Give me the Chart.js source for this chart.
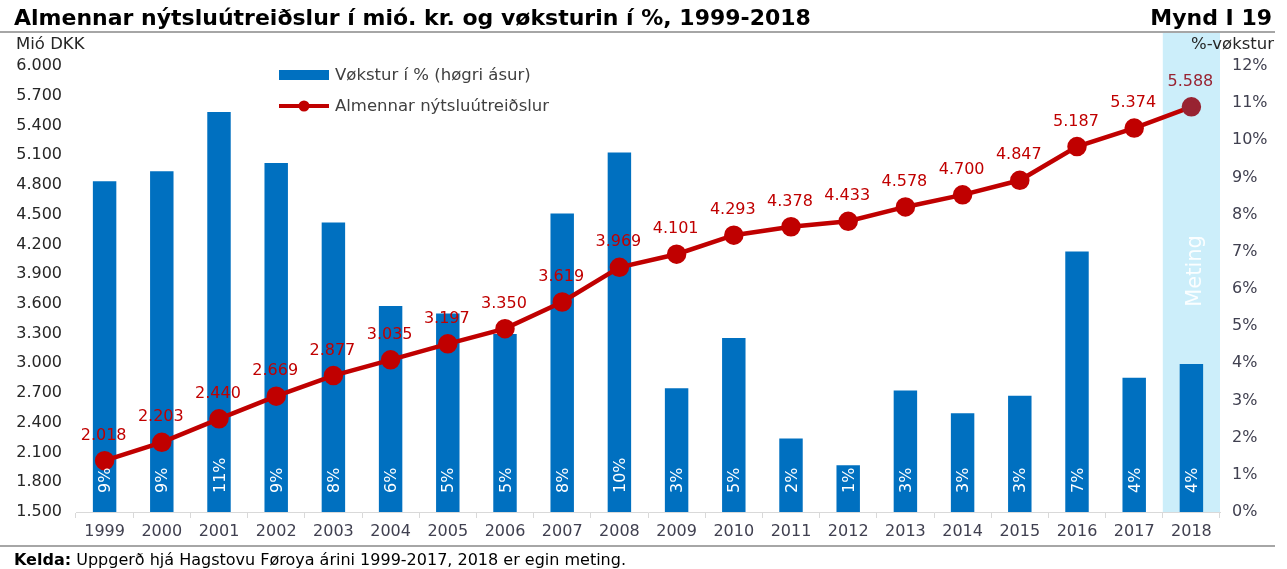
<!DOCTYPE html>
<html>
<head>
<meta charset="utf-8">
<script src="https://cdn.jsdelivr.net/npm/chart.js@4"></script>
<style>
  html,body{margin:0;padding:0;background:#fff;}
  #wrap{position:relative;width:1287px;height:569px;font-family:"DejaVu Sans",Verdana,sans-serif;overflow:hidden;}
  #wrap canvas{position:absolute;left:0;top:0;}
  .title{position:absolute;left:14px;top:5px;font-weight:bold;font-size:22px;color:#000;white-space:nowrap;}
  .fig{position:absolute;right:15px;top:5px;font-weight:bold;font-size:22px;color:#000;}
  .rule{position:absolute;left:0;width:1275px;height:2px;background:#a6a6a6;}
  .unit{position:absolute;top:34px;font-size:16.5px;color:#262626;}
  .src{position:absolute;left:14px;top:550px;font-size:16px;color:#000;white-space:nowrap;}
</style>
</head>
<body>
<div id="wrap">
  <canvas id="c" width="1287" height="569"></canvas>
  <div class="title">Almennar nýtsluútreiðslur í mió. kr. og vøksturin í %, 1999-2018</div>
  <div class="fig">Mynd I 19</div>
  <div class="rule" style="top:31px"></div>
  <div class="unit" style="left:16px">Mió DKK</div>
  <div class="unit" style="right:13px">%-vøkstur</div>
  <div class="rule" style="top:545px"></div>
  <div class="src"><b>Kelda:</b> Uppgerð hjá Hagstovu Føroya árini 1999-2017, 2018 er egin meting.</div>
</div>
<script>
// data
const years = ['1999','2000','2001','2002','2003','2004','2005','2006','2007','2008',
               '2009','2010','2011','2012','2013','2014','2015','2016','2017','2018'];
const spending = [2018,2203,2440,2669,2877,3035,3197,3350,3619,3969,
                  4101,4293,4378,4433,4578,4700,4847,5187,5374,5588];
const growth = [8.9,9.17,10.76,9.39,7.79,5.54,5.34,4.79,8.03,9.67,
                3.33,4.68,1.98,1.26,3.27,2.66,3.13,7.01,3.61,3.98];
const leftTicks = [1500,1800,2100,2400,2700,3000,3300,3600,3900,4200,4500,4800,5100,5400,5700,6000];
const estimateYear = '2018';

const FONT = '"DejaVu Sans", Verdana, sans-serif';
const RED = '#C00000';
const RED_EST = '#982332';
const BLUE = '#0070C0';

function fmt(n){ return String(n).replace(/\B(?=(\d{3})+(?!\d))/g, '.'); }

// light blue band behind the estimate year + "Meting"
const bandPlugin = {
  id:'band',
  beforeDatasetsDraw(chart){
    const {ctx, scales:{x}, chartArea} = chart;
    const i = years.indexOf(estimateYear);
    const w = x.getPixelForValue(1) - x.getPixelForValue(0);
    const cx = x.getPixelForValue(i);
    ctx.save();
    ctx.fillStyle = '#CCEEFA';
    ctx.fillRect(cx - w/2, 33, w, chartArea.bottom - 33);
    ctx.translate(cx + 4, 271);
    ctx.rotate(-Math.PI/2);
    ctx.fillStyle = 'rgba(255,255,255,0.92)';
    ctx.font = '21px ' + FONT;
    ctx.textAlign = 'center';
    ctx.textBaseline = 'middle';
    ctx.fillText('Meting', 0, 0);
    ctx.restore();
  }
};

// value labels: rotated % inside bars, spending above points
const labelPlugin = {
  id:'labels',
  afterDatasetsDraw(chart){
    const {ctx, chartArea} = chart;
    const barMeta = chart.getDatasetMeta(0);
    const lineMeta = chart.getDatasetMeta(1);
    ctx.save();
    ctx.font = '16px ' + FONT;
    ctx.fillStyle = '#ffffff';
    barMeta.data.forEach((bar, i) => {
      ctx.save();
      ctx.translate(bar.x + 1.5, chartArea.bottom - 19);
      ctx.rotate(-Math.PI/2);
      ctx.textAlign = 'left';
      ctx.textBaseline = 'middle';
      ctx.fillText(Math.round(growth[i]) + '%', 0, 0);
      ctx.restore();
    });
    ctx.font = '16px ' + FONT;
    ctx.textAlign = 'center';
    ctx.textBaseline = 'middle';
    lineMeta.data.forEach((pt, i) => {
      ctx.fillStyle = years[i] === estimateYear ? RED_EST : RED;
      ctx.fillText(fmt(spending[i]), pt.x - 1, pt.y - 25);
    });
    ctx.restore();
  }
};

// legend drawn by hand to match the reference placement
const legendPlugin = {
  id:'legendBox',
  afterDraw(chart){
    const {ctx} = chart;
    const ds = chart.data.datasets;
    ctx.save();
    ctx.font = '16.5px ' + FONT;
    ctx.textBaseline = 'middle';
    ctx.fillStyle = BLUE;
    ctx.fillRect(279, 70, 50, 10);
    ctx.fillStyle = '#404040';
    ctx.fillText(ds[0].label, 335, 76);
    ctx.strokeStyle = RED;
    ctx.lineWidth = 4;
    ctx.beginPath(); ctx.moveTo(279, 106); ctx.lineTo(329, 106); ctx.stroke();
    ctx.fillStyle = RED;
    ctx.beginPath(); ctx.arc(304, 106, 5.5, 0, Math.PI*2); ctx.fill();
    ctx.fillStyle = '#404040';
    ctx.fillText(ds[1].label, 335, 107);
    ctx.restore();
  }
};

new Chart(document.getElementById('c'), {
  data:{
    labels: years,
    datasets:[
      {
        type:'bar', label:'Vøkstur í % (høgri ásur)', data: growth, yAxisID:'y1',
        backgroundColor: BLUE, borderWidth:0,
        categoryPercentage:1, barPercentage:0.41, order:2
      },
      {
        type:'line', label:'Almennar nýtsluútreiðslur', data: spending, yAxisID:'y',
        borderColor: RED, borderWidth:4.5,
        pointRadius:7.5, pointHoverRadius:7.5,
        pointBackgroundColor: years.map(y => y === estimateYear ? RED_EST : RED),
        pointBorderColor: years.map(y => y === estimateYear ? RED_EST : RED),
        tension:0, order:1
      }
    ]
  },
  options:{
    responsive:false,
    animation:false,
    devicePixelRatio:1,
    layout:{padding:{top:66, left:0, right:0, bottom:0}},
    plugins:{legend:{display:false}, tooltip:{enabled:false}, title:{display:false}},
    scales:{
      x:{
        offset:true,
        grid:{display:true, drawOnChartArea:false, offset:true, tickLength:6, color:'#d9d9d9'},
        border:{display:true, color:'#d9d9d9', width:1},
        ticks:{color:'#404050', font:{family:FONT, size:16}, padding:4, maxRotation:0},
        afterFit(s){ s.height = 57; }
      },
      y:{
        position:'left', min:1500, max:6000,
        afterBuildTicks(s){ s.ticks = leftTicks.map(v => ({value:v})); },
        grid:{display:false, drawTicks:false},
        border:{display:false},
        ticks:{color:'#262626', font:{family:FONT, size:16}, padding:14, callback:v => fmt(v)},
        afterFit(s){ s.width = 76; }
      },
      y1:{
        position:'right', min:0, max:12,
        ticks:{stepSize:1, color:'#404050', font:{family:FONT, size:16}, padding:12, callback:v => v + '%'},
        grid:{display:false, drawTicks:false},
        border:{display:false},
        afterFit(s){ s.width = 67; }
      }
    }
  },
  plugins:[bandPlugin, labelPlugin, legendPlugin]
});
</script>
</body>
</html>
